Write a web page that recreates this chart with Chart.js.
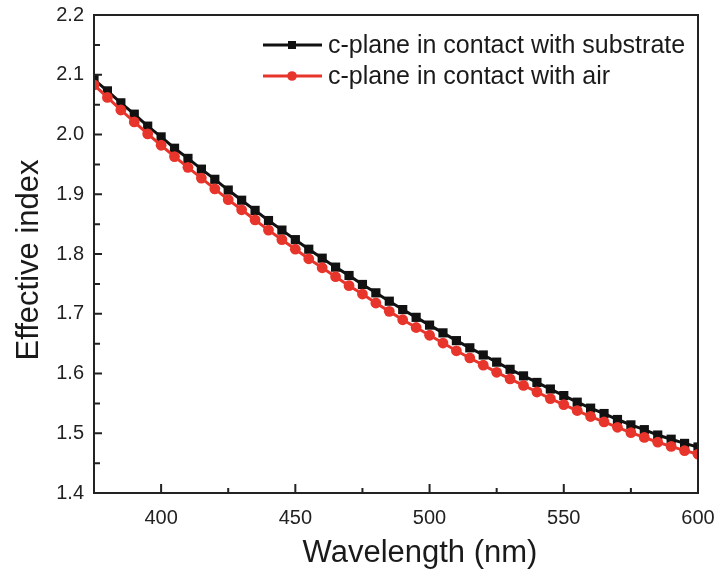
<!DOCTYPE html>
<html><head><meta charset="utf-8">
<script src="https://cdn.jsdelivr.net/npm/chart.js@4/dist/chart.umd.min.js"></script>
<style>html,body{margin:0;padding:0;background:#fff}#c{display:block}</style>
</head><body>
<canvas id="c" width="717" height="573"></canvas>
<script>
const wavelengths = [375,380,385,390,395,400,405,410,415,420,425,430,435,440,445,450,455,460,465,470,475,480,485,490,495,500,505,510,515,520,525,530,535,540,545,550,555,560,565,570,575,580,585,590,595,600];
const substrate = [2.092,2.073,2.053,2.034,2.014,1.996,1.977,1.960,1.942,1.925,1.907,1.890,1.873,1.856,1.840,1.824,1.808,1.793,1.778,1.764,1.749,1.735,1.721,1.707,1.694,1.681,1.668,1.655,1.643,1.631,1.619,1.607,1.596,1.585,1.574,1.563,1.552,1.542,1.533,1.523,1.514,1.506,1.497,1.490,1.483,1.477];
const air = [2.083,2.062,2.041,2.021,2.001,1.982,1.963,1.945,1.927,1.909,1.891,1.874,1.857,1.840,1.824,1.808,1.792,1.777,1.762,1.747,1.733,1.718,1.704,1.690,1.677,1.664,1.651,1.638,1.626,1.614,1.602,1.591,1.580,1.569,1.558,1.548,1.538,1.528,1.519,1.510,1.501,1.493,1.485,1.478,1.471,1.465];
const xTicks = [400,450,500,550,600];
const xMinorTicks = [425,475,525,575];
const yTicks = [1.4,1.5,1.6,1.7,1.8,1.9,2.0,2.1,2.2];
const yMinorTicks = [1.45,1.55,1.65,1.75,1.85,1.95,2.05,2.15];
const seriesNames = ['c-plane in contact with substrate','c-plane in contact with air'];
const xTitle = 'Wavelength (nm)';
const yTitle = 'Effective index';

const FONT = '"Liberation Sans", Arial, Helvetica, sans-serif';
const AXIS = '#222';
const BLACK = '#111111';
const RED = '#e8352b';

const toPts = (ys) => wavelengths.map((x, i) => ({x, y: ys[i]}));

const decor = {
  id: 'decor',
  afterDatasetsDraw(chart) {
    const ctx = chart.ctx, a = chart.chartArea;
    const xs = chart.scales.x, ys = chart.scales.y;
    ctx.save();
    ctx.strokeStyle = AXIS;
    ctx.lineWidth = 2;
    ctx.strokeRect(a.left, a.top, a.right - a.left, a.bottom - a.top);
    ctx.beginPath();
    xTicks.forEach(v => { const p = xs.getPixelForValue(v); ctx.moveTo(p, a.bottom); ctx.lineTo(p, a.bottom - 9); });
    xMinorTicks.forEach(v => { const p = xs.getPixelForValue(v); ctx.moveTo(p, a.bottom); ctx.lineTo(p, a.bottom - 5); });
    yTicks.forEach(v => { const p = ys.getPixelForValue(v); ctx.moveTo(a.left, p); ctx.lineTo(a.left + 8, p); });
    yMinorTicks.forEach(v => { const p = ys.getPixelForValue(v); ctx.moveTo(a.left, p); ctx.lineTo(a.left + 6, p); });
    ctx.stroke();

    // legend
    const ds = [chart.data.datasets[1], chart.data.datasets[0]];
    const rows = [45, 76];
    ctx.font = '25px ' + FONT;
    ctx.textBaseline = 'middle';
    ctx.textAlign = 'left';
    ds.forEach((d, i) => {
      const y = rows[i];
      ctx.strokeStyle = d.borderColor;
      ctx.lineWidth = 2.8;
      ctx.beginPath(); ctx.moveTo(263, y); ctx.lineTo(322, y); ctx.stroke();
      ctx.fillStyle = d.pointBackgroundColor;
      if (d.pointStyle === 'rect') { ctx.fillRect(288, y - 4, 8, 8); }
      else { ctx.beginPath(); ctx.arc(292, y, 4.8, 0, Math.PI * 2); ctx.fill(); }
      ctx.fillStyle = '#1a1a1a';
      ctx.fillText(seriesNames[i], 328, y + 1);
    });

    // axis titles
    ctx.fillStyle = '#1a1a1a';
    ctx.font = '31px ' + FONT;
    ctx.textAlign = 'center';
    ctx.textBaseline = 'alphabetic';
    ctx.fillText(xTitle, 420, 562);
    ctx.save();
    ctx.translate(38, 260);
    ctx.rotate(-Math.PI / 2);
    ctx.fillText(yTitle, 0, 0);
    ctx.restore();
    ctx.restore();
  }
};

new Chart(document.getElementById('c'), {
  type: 'line',
  data: {
    datasets: [
      { label: seriesNames[1], data: toPts(air), borderColor: RED, backgroundColor: RED, pointBackgroundColor: RED, pointBorderColor: RED, pointStyle: 'circle', pointRadius: 5.4, pointBorderWidth: 0, borderWidth: 3, tension: 0 },
      { label: seriesNames[0], data: toPts(substrate), borderColor: BLACK, backgroundColor: BLACK, pointBackgroundColor: BLACK, pointBorderColor: BLACK, pointStyle: 'rect', pointRadius: 6.5, pointBorderWidth: 0, borderWidth: 3, tension: 0 }
    ]
  },
  options: {
    responsive: false,
    animation: false,
    devicePixelRatio: 1,
    layout: { padding: { left: 0, right: 19, top: 15, bottom: 0 } },
    plugins: { legend: { display: false }, tooltip: { enabled: false } },
    scales: {
      x: {
        type: 'linear', min: 375, max: 600,
        grid: { display: false, drawTicks: false },
        border: { display: false },
        afterBuildTicks: s => { s.ticks = xTicks.map(v => ({value: v})); },
        afterFit: s => { s.height = 80; s.paddingLeft = 0; s.paddingRight = 0; },
        ticks: { padding: 13, color: '#222', font: { family: FONT, size: 20 }, callback: v => String(v) }
      },
      y: {
        type: 'linear', min: 1.4, max: 2.2,
        grid: { display: false, drawTicks: false },
        border: { display: false },
        afterBuildTicks: s => { s.ticks = yTicks.map(v => ({value: v})); },
        afterFit: s => { s.width = 94; s.paddingTop = 0; s.paddingBottom = 0; },
        ticks: { padding: 10, color: '#222', font: { family: FONT, size: 20 }, callback: v => v.toFixed(1) }
      }
    }
  },
  plugins: [decor]
});
</script>
</body></html>
